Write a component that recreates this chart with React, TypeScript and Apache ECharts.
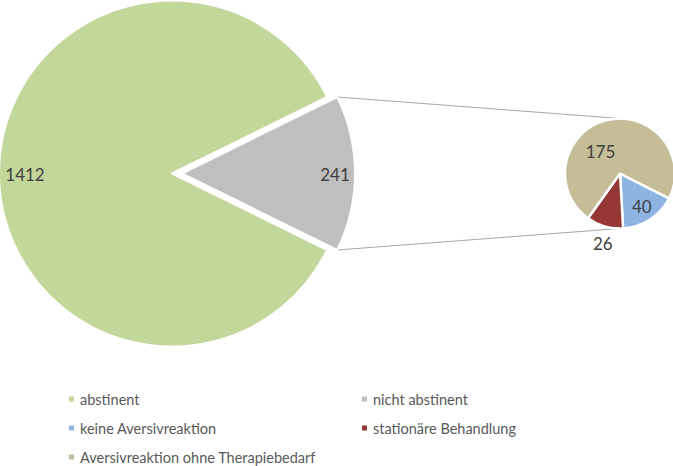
import React, { useEffect, useRef } from "react";
import * as echarts from "echarts";

const mainNames = ["abstinent", "nicht abstinent"];
const mainValues = [1412, 241];
const subNames = ["keine Aversivreaktion", "stationäre Behandlung", "Aversivreaktion ohne Therapiebedarf"];
const subValues = [40, 26, 175];
const legendLeftNames = ["abstinent", "keine Aversivreaktion", "Aversivreaktion ohne Therapiebedarf"];
const legendRightNames = ["nicht abstinent", "stationäre Behandlung"];

const mainColors = ["#C4D79B", "#BFBFBF"];
const subColors = ["#8EB4E3", "#953735", "#C4BD97"];

const FONT = "Lato";
const MAIN_C = [172, 173.5];
const MAIN_R = 173;
const OFFSET = 10;
const SUB_C = [620, 173.5];
const SUB_R = 55;
const SUB_START = -27;

export default function App() {
  const ref = useRef<HTMLDivElement>(null);
  useEffect(() => {
    if (!ref.current) return;
    const chart = echarts.init(ref.current, undefined, { renderer: "svg" });
    const total = mainValues.reduce((a, b) => a + b, 0);
    const otherAngle = (mainValues[1] / total) * 360;
    const mainStart = -otherAngle / 2;
    const half = (otherAngle / 2) * Math.PI / 180;
    const gx = MAIN_C[0] + OFFSET;
    const cTop = [gx + MAIN_R * Math.cos(half), MAIN_C[1] - MAIN_R * Math.sin(half)];
    const cBot = [gx + MAIN_R * Math.cos(half), MAIN_C[1] + MAIN_R * Math.sin(half)];

    const mainData = mainNames.map((n, i) => ({
      name: n,
      value: mainValues[i],
      selected: i === 1,
      itemStyle: { color: mainColors[i] },
    }));
    const mainLabelData = mainNames.map((n, i) => ({
      name: n,
      value: mainValues[i],
      selected: i === 1,
      itemStyle: { color: "rgba(0,0,0,0)", borderWidth: 0 },
    }));
    const subData = subNames.map((n, i) => ({
      name: n,
      value: subValues[i],
      itemStyle: { color: subColors[i] },
    }));
    const subLabelData = subNames.map((n, i) => ({
      name: n,
      value: subValues[i],
      itemStyle: { color: "rgba(0,0,0,0)", borderWidth: 0 },
    }));
    const labelStyle = {
      show: true,
      position: "inside",
      formatter: "{c}",
      fontFamily: FONT,
      fontSize: 17,
      color: "#404040",
    };
    const mainNudges: Record<number, number[]> = { 0: [5, 1], 1: [1, 1] };
    const subNudges: Record<number, number[]> = { 1: [-6, 32], 2: [-10, 17] };
    const legendCommon = {
      orient: "vertical",
      itemWidth: 7,
      itemHeight: 7,
      itemGap: 12,
      padding: 0,
      icon: "rect",
      selectedMode: false,
      textStyle: { fontFamily: FONT, fontSize: 14.5, color: "#595959", lineHeight: 17 },
    };

    chart.setOption({
      animation: false,
      legend: [
        { ...legendCommon, left: 67, top: 390.5, data: legendLeftNames },
        { ...legendCommon, left: 360, top: 390.5, data: legendRightNames },
      ],
      graphic: [
        { type: "line", shape: { x1: cTop[0], y1: cTop[1], x2: SUB_C[0], y2: SUB_C[1] - SUB_R }, style: { stroke: "#A6A6A6", lineWidth: 1 }, silent: true },
        { type: "line", shape: { x1: cBot[0], y1: cBot[1], x2: SUB_C[0], y2: SUB_C[1] + SUB_R }, style: { stroke: "#A6A6A6", lineWidth: 1 }, silent: true },
      ],
      series: [
        {
          type: "pie",
          center: MAIN_C,
          radius: [0, MAIN_R],
          startAngle: mainStart,
          clockwise: true,
          selectedMode: "single",
          selectedOffset: OFFSET,
          avoidLabelOverlap: false,
          label: { show: false },
          labelLine: { show: false },
          itemStyle: { borderColor: "#fff", borderWidth: 2 },
          emphasis: { disabled: true },
          data: mainData,
        },
        {
          type: "pie",
          center: SUB_C,
          radius: [0, SUB_R],
          startAngle: SUB_START,
          clockwise: true,
          avoidLabelOverlap: false,
          label: { show: false },
          labelLine: { show: false },
          itemStyle: { borderColor: "#fff", borderWidth: 2.5 },
          emphasis: { disabled: true },
          data: subData,
        },
        {
          type: "pie",
          center: MAIN_C,
          radius: [125, MAIN_R],
          startAngle: mainStart,
          clockwise: true,
          selectedMode: "single",
          selectedOffset: OFFSET,
          silent: true,
          avoidLabelOverlap: false,
          label: labelStyle,
          labelLine: { show: false },
          emphasis: { disabled: true },
          labelLayout: (p: any) => {
            const n = mainNudges[p.dataIndex];
            return n ? { dx: n[0], dy: n[1] } : {};
          },
          data: mainLabelData,
        },
        {
          type: "pie",
          center: SUB_C,
          radius: [19, SUB_R],
          startAngle: SUB_START,
          clockwise: true,
          silent: true,
          avoidLabelOverlap: false,
          label: labelStyle,
          labelLine: { show: false },
          emphasis: { disabled: true },
          labelLayout: (p: any) => {
            const n = subNudges[p.dataIndex];
            return n ? { dx: n[0], dy: n[1] } : {};
          },
          data: subLabelData,
        },
      ],
    });
    return () => chart.dispose();
  }, []);
  return <div ref={ref} style={{ position: "absolute", left: 0, top: 0, width: 673, height: 466 }} />;
}
